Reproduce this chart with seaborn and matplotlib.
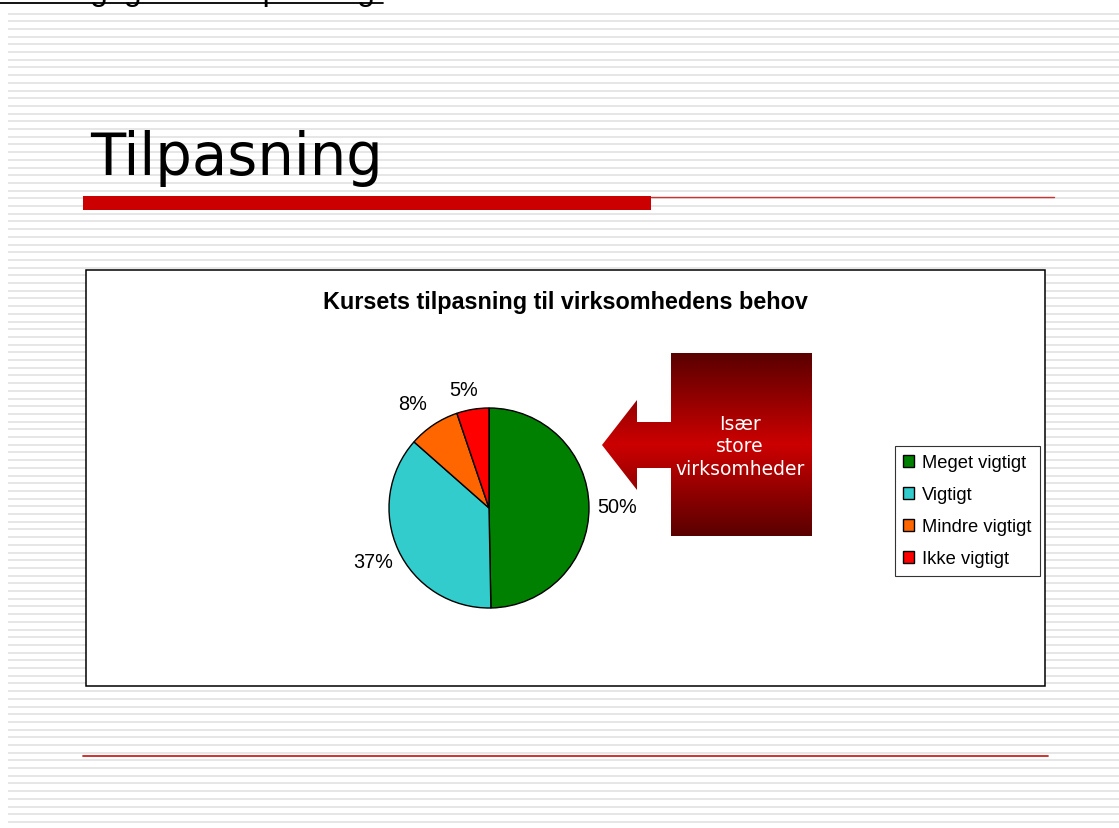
import numpy as np
import seaborn as sns
import matplotlib.pyplot as plt
from matplotlib.patches import Rectangle, Polygon

# data
categories = ["Meget vigtigt", "Vigtigt", "Mindre vigtigt", "Ikke vigtigt"]
shares = [49.7, 36.8, 8.3, 5.2]
colors = ["#008000", "#33CCCC", "#FF6600", "#FF0000"]

slide_title = "Tilpasning"
chart_title = "Kursets tilpasning til virksomhedens behov"
header_text = "2.2. Vigtighed af tilpasning"
callout_text = "Især\nstore\nvirksomheder"

sns.set_theme(style="white")
plt.rcParams["font.family"] = ["Liberation Sans", "DejaVu Sans"]
plt.rcParams["text.color"] = "black"

W, H = 1119, 829
fig = plt.figure(figsize=(W / 100, H / 100), dpi=100)
fig.patch.set_facecolor("white")

# background layer in pixel coords
bg = fig.add_axes([0, 0, 1, 1])
bg.set_xlim(0, W)
bg.set_ylim(H, 0)
bg.axis("off")

# striped slide background
bg.hlines(np.arange(14.5, H, 7.7), 8, W, color="#e6e6e6", lw=1.4, zorder=0)

# header cut off at the very top (as on the slide)
bg.text(0, 0, header_text, fontsize=23, va="baseline", ha="left", color="black")
bg.plot([0, 383], [4, 4], color="black", lw=1.3)

# slide title + red rule
bg.text(90, 175, slide_title, fontsize=41.5, family="DejaVu Sans", va="baseline", ha="left")
bg.add_patch(Rectangle((83, 197), 568, 14, color="#CC0000", lw=0, zorder=2))
bg.plot([651, 1054], [197.5, 197.5], color="#CC3333", lw=1, zorder=2)
bg.plot([83, 1048], [757, 757], color="#CC2222", lw=1.3, zorder=2)

# chart frame
bg.add_patch(Rectangle((86, 271), 959, 416, facecolor="white", edgecolor="black", lw=1.1, zorder=3))
bg.text(565, 302, chart_title, fontsize=16.8, fontweight="bold", ha="center", va="center", zorder=4)

# callout arrow with dark-bright-dark gradient
pts = [(602, 446), (637, 401), (637, 423), (671, 423), (671, 354), (812, 354),
       (812, 537), (671, 537), (671, 469), (637, 469), (637, 491)]
shape = Polygon(pts, closed=True, facecolor="none", edgecolor="none", zorder=4)
bg.add_patch(shape)
t = np.linspace(0, 1, 256)
grad = 1 - np.abs(t - 0.5) * 2
img = bg.imshow(grad[:, None], cmap=sns.blend_palette(["#5A0000", "#CC0000"], as_cmap=True),
                extent=(602, 812, 537, 354), aspect="auto", zorder=4, vmin=0, vmax=1)
img.set_clip_path(shape)
bg.set_xlim(0, W)
bg.set_ylim(H, 0)
bg.text(740, 447, callout_text, color="white", fontsize=13.5, family="DejaVu Sans",
        ha="center", va="center", linespacing=1.23, zorder=5)

# pie
cx, cy, r = 489, 509, 100
ax = fig.add_axes([(cx - r) / W, 1 - (cy + r) / H, 2 * r / W, 2 * r / H])
wedges, _, autotexts = ax.pie(shares, colors=colors, startangle=90, counterclock=False,
                              autopct="%1.0f%%", pctdistance=1.28,
                              wedgeprops=dict(edgecolor="black", linewidth=1.0))
# nudge the small-slice labels like the original layout
label_dist = [1.28, 1.28, 1.29, 1.21]
label_shift = [0, 0, 2.5, 2.7]
for a, w, d, s in zip(autotexts, wedges, label_dist, label_shift):
    ang = np.deg2rad((w.theta1 + w.theta2) / 2 + s)
    a.set_position((d * np.cos(ang), d * np.sin(ang)))
    a.set_fontsize(14.3)
    a.set_color("black")
ax.set_xlim(-1, 1)
ax.set_ylim(-1, 1)

leg = ax.legend(wedges, categories, loc="upper left", bbox_to_anchor=(895 / W, 1 - 447 / H),
                bbox_transform=fig.transFigure, borderaxespad=0, fontsize=13.2,
                frameon=True, fancybox=False, handlelength=0.6, handleheight=0.6,
                handletextpad=0.42, labelspacing=0.82, borderpad=0.45)
leg.get_frame().set_edgecolor("black")
leg.get_frame().set_linewidth(0.8)
for txt in leg.get_texts():
    txt.set_color("black")

fig.savefig("out.png", dpi=100)
